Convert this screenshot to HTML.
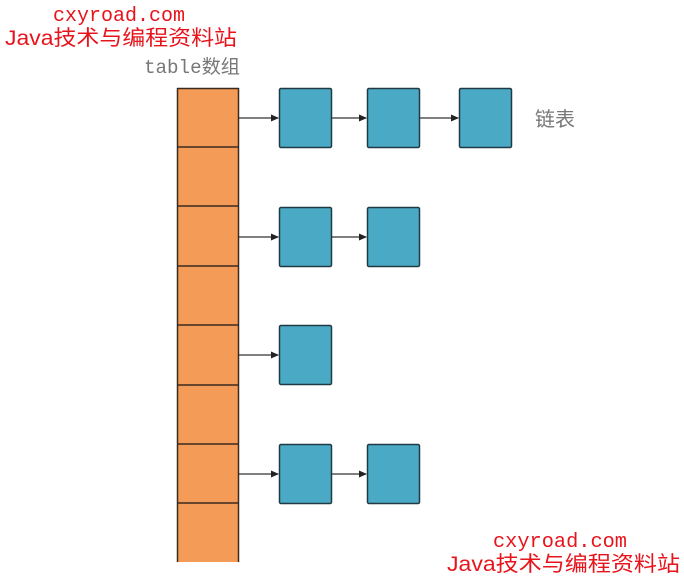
<!DOCTYPE html>
<html><head><meta charset="utf-8"><style>
html,body{margin:0;padding:0;background:#fff;width:684px;height:576px;overflow:hidden}
</style></head><body>
<svg width="684" height="576" xmlns="http://www.w3.org/2000/svg">
<defs><marker id="a" markerWidth="8" markerHeight="8" refX="7" refY="4" orient="auto" markerUnits="userSpaceOnUse"><path d="M0,0.5 L8,4 L0,7.5 z" fill="#222"/></marker></defs>
<rect x="177" y="88" width="62" height="474" fill="#f49b57"/>
<line x1="177.5" y1="88" x2="177.5" y2="562" stroke="#3a2a20" stroke-width="1.5"/>
<line x1="238.5" y1="88" x2="238.5" y2="562" stroke="#3a2a20" stroke-width="1.5"/>
<line x1="177" y1="88.5" x2="239" y2="88.5" stroke="#3a2a20" stroke-width="1.5"/>
<g stroke="#3a2a20" stroke-width="1.5">
<line x1="177" y1="147" x2="239" y2="147"/><line x1="177" y1="206" x2="239" y2="206"/>
<line x1="177" y1="266" x2="239" y2="266"/><line x1="177" y1="325" x2="239" y2="325"/>
<line x1="177" y1="385" x2="239" y2="385"/><line x1="177" y1="444" x2="239" y2="444"/>
<line x1="177" y1="503" x2="239" y2="503"/></g>
<g fill="#4aaac5" stroke="#1f3a44" stroke-width="1.5">
<rect x="279.5" y="88.5" width="52" height="59" rx="1.5"/><rect x="367.5" y="88.5" width="52" height="59" rx="1.5"/><rect x="459.5" y="88.5" width="52" height="59" rx="1.5"/>
<rect x="279.5" y="207.5" width="52" height="59" rx="1.5"/><rect x="367.5" y="207.5" width="52" height="59" rx="1.5"/>
<rect x="279.5" y="325.5" width="52" height="59" rx="1.5"/>
<rect x="279.5" y="444.5" width="52" height="59" rx="1.5"/><rect x="367.5" y="444.5" width="52" height="59" rx="1.5"/>
</g>
<g stroke="#333" stroke-width="1.2" marker-end="url(#a)">
<line x1="239" y1="118" x2="278" y2="118"/><line x1="331" y1="118" x2="366" y2="118"/><line x1="419" y1="118" x2="458" y2="118"/>
<line x1="239" y1="237" x2="278" y2="237"/><line x1="331" y1="237" x2="366" y2="237"/>
<line x1="239" y1="355" x2="278" y2="355"/>
<line x1="239" y1="474" x2="278" y2="474"/><line x1="331" y1="474" x2="366" y2="474"/>
</g>
<text x="144" y="73" font-family="Liberation Mono, 'Noto Sans CJK SC', monospace" font-size="19" fill="#777" textLength="96" lengthAdjust="spacingAndGlyphs">table<tspan font-family="'Noto Sans CJK SC', sans-serif">数组</tspan></text>
<text x="535" y="126" font-family="'Noto Sans CJK SC', sans-serif" font-size="20" fill="#777">链表</text>
<g fill="#e8141c">
<text x="53" y="21" font-family="Liberation Mono, monospace" font-size="20" textLength="132" lengthAdjust="spacingAndGlyphs">cxyroad.com</text>
<text x="5" y="45" font-family="'Liberation Sans','Noto Sans CJK SC',sans-serif" font-size="21" textLength="232" lengthAdjust="spacingAndGlyphs">Java技术与编程资料站</text>
<text x="493" y="547" font-family="Liberation Mono, monospace" font-size="20" textLength="134" lengthAdjust="spacingAndGlyphs">cxyroad.com</text>
<text x="447" y="571" font-family="'Liberation Sans','Noto Sans CJK SC',sans-serif" font-size="21" textLength="233" lengthAdjust="spacingAndGlyphs">Java技术与编程资料站</text>
</g>
</svg>
</body></html>
